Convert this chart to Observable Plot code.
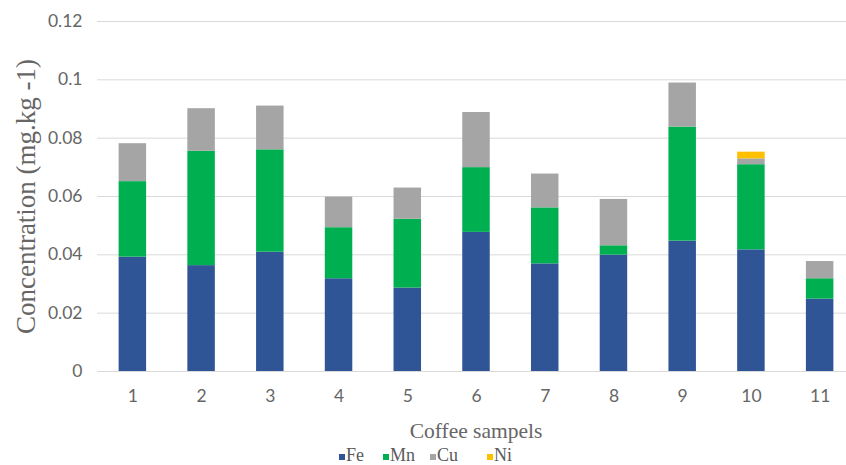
<!DOCTYPE html>
<html>
<head>
<meta charset="utf-8">
<script src="https://cdn.jsdelivr.net/npm/d3@7"></script>
<script src="https://cdn.jsdelivr.net/npm/@observablehq/plot@0.6"></script>
<style>
  html, body { margin: 0; padding: 0; background: #fff; }
  #legend { position: relative; height: 19px; font-family: "Liberation Serif", "DejaVu Serif", serif; font-size: 18px; color: #595959; }
  #legend .sw { position: absolute; width: 6px; height: 6px; top: 8px; }
  #legend .lbl { position: absolute; top: 0px; line-height: 18px; white-space: nowrap; }
</style>
</head>
<body>
<div id="chart"></div>
<div id="legend"></div>
<script>
const samples = ["1","2","3","4","5","6","7","8","9","10","11"];
const elements = ["Fe","Mn","Cu","Ni"];
const colors = ["#2F5597","#00B050","#A5A5A5","#FFC000"];
const fe = [0.0392,0.0363,0.0409,0.0318,0.0286,0.0477,0.0369,0.0399,0.0447,0.0417,0.0248];
const mn = [0.0259,0.0392,0.0351,0.0175,0.0236,0.0222,0.0192,0.0032,0.0391,0.0292,0.0070];
const cu = [0.0130,0.0146,0.0150,0.0105,0.0107,0.0189,0.0116,0.0159,0.0151,0.0020,0.0059];
const ni = [0,0,0,0,0,0,0,0,0,0.0023,0];
const yTicks = [0,0.02,0.04,0.06,0.08,0.1,0.12];
const yTickLabels = ["0","0.02","0.04","0.06","0.08","0.1","0.12"];

const series = [fe, mn, cu, ni];
const rows = [];
samples.forEach((s, i) => {
  elements.forEach((e, j) => rows.push({sample: s, element: e, value: series[j][i]}));
});

const chart = Plot.plot({
  width: 846,
  height: 446,
  marginLeft: 97,
  marginRight: 0,
  marginTop: 21,
  marginBottom: 75,
  style: {background: "#fff"},
  x: {domain: samples, range: [98, 854], paddingInner: 0.6, paddingOuter: 0.3, round: false, label: null},
  y: {domain: [0, 0.12], label: null},
  color: {domain: elements, range: colors},
  marks: [
    Plot.ruleY(yTicks, {stroke: "#d9d9d9", strokeWidth: 1}),
    Plot.barY(rows, {x: "sample", y: "value", fill: "element"}),
    Plot.axisY({ticks: yTicks, tickFormat: (d) => yTickLabels[yTicks.indexOf(d)], tickSize: 0, tickPadding: 15, fontSize: 17.5, fill: "#666", fontFamily: "Lato, 'Open Sans', sans-serif", label: null}),
    Plot.axisX({tickSize: 0, tickPadding: 18, fontSize: 17.5, fill: "#666", fontFamily: "Lato, 'Open Sans', sans-serif", label: null}),
    Plot.text(["Concentration (mg.kg -1)"], {frameAnchor: "left", textAnchor: "middle", rotate: -90, dx: -71, fontSize: 27, fill: "#666", fontFamily: "'Liberation Serif', serif"}),
    Plot.text(["Coffee sampels"], {frameAnchor: "bottom", dy: 66, dx: 4, fontSize: 21.5, fill: "#666", fontFamily: "'Liberation Serif', serif"})
  ]
});
document.getElementById("chart").appendChild(chart);

const legend = document.getElementById("legend");
const swX = [339, 383, 430, 487];
elements.forEach((e, j) => {
  const sw = document.createElement("span");
  sw.className = "sw";
  sw.style.left = swX[j] + "px";
  sw.style.background = colors[j];
  legend.appendChild(sw);
  const lb = document.createElement("span");
  lb.className = "lbl";
  lb.style.left = (swX[j] + 7) + "px";
  lb.textContent = e;
  legend.appendChild(lb);
});
</script>
</body>
</html>
